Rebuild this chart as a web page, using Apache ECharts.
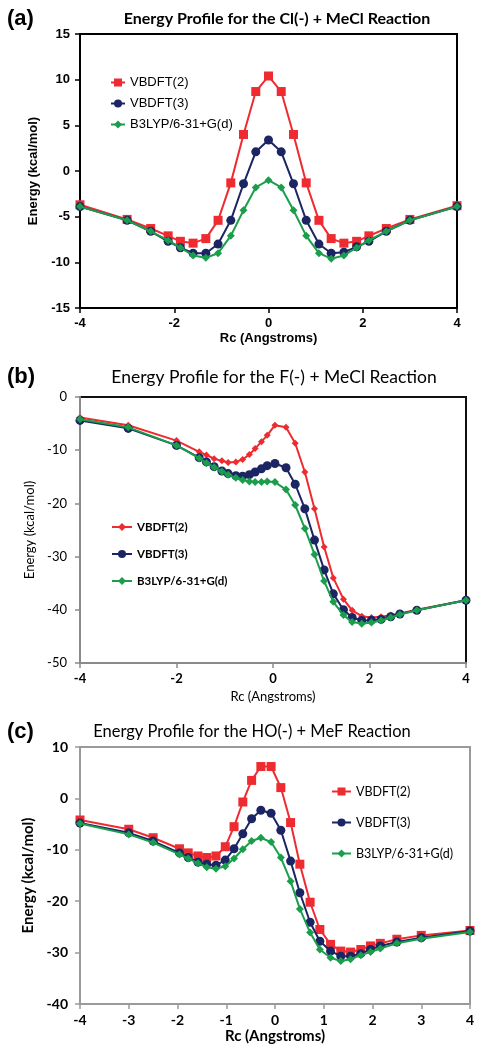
<!DOCTYPE html>
<html>
<head>
<meta charset="utf-8">
<script src="https://cdn.jsdelivr.net/npm/echarts@6/dist/echarts.min.js"></script>
<style>
html,body{margin:0;padding:0;background:#fff;}
#chart{width:485px;height:1050px;}
</style>
</head>
<body>
<div id="chart"></div>
<script>
// ---------- Panel (a): Cl(-) + MeCl ----------
const aX   = [-4, -3, -2.5, -2.13, -1.87, -1.6, -1.33, -1.07, -0.8, -0.53, -0.27, 0, 0.27, 0.53, 0.8, 1.07, 1.33, 1.6, 1.87, 2.13, 2.5, 3, 4];
const aVB2 = [-3.7, -5.3, -6.3, -7.1, -7.7, -7.9, -7.4, -5.4, -1.3, 4.0, 8.7, 10.4, 8.7, 4.0, -1.3, -5.4, -7.4, -7.9, -7.7, -7.1, -6.3, -5.3, -3.8];
const aVB3 = [-3.9, -5.4, -6.6, -7.7, -8.4, -9.0, -9.0, -8.0, -5.4, -1.4, 2.1, 3.4, 2.1, -1.4, -5.4, -8.0, -9.0, -8.9, -8.3, -7.7, -6.6, -5.4, -3.9];
const aB3  = [-3.9, -5.4, -6.6, -7.6, -8.4, -9.25, -9.5, -9.0, -7.1, -4.3, -1.8, -1.0, -1.8, -4.3, -7.1, -9.0, -9.6, -9.25, -8.4, -7.6, -6.6, -5.4, -3.9];
const aYTicks = {min: -15, max: 15, interval: 5};
const aXTicks = {min: -4, max: 4, interval: 2};

// ---------- Panel (b): F(-) + MeCl ----------
const bX   = [-4, -3, -2, -1.53, -1.38, -1.22, -1.06, -0.93, -0.77, -0.63, -0.49, -0.37, -0.24, -0.12, 0.04, 0.27, 0.46, 0.66, 0.86, 1.06, 1.25, 1.46, 1.64, 1.84, 2.04, 2.24, 2.44, 2.63, 2.98, 4];
const bVB2 = [-3.85, -5.3, -8.2, -10.3, -10.9, -11.6, -12.0, -12.3, -12.2, -11.75, -10.8, -9.7, -8.4, -7.2, -5.3, -5.7, -8.7, -14.1, -21.0, -28.2, -34.0, -38.0, -40.1, -41.2, -41.45, -41.3, -41.0, -40.7, -40.0, -38.2];
const bVB3 = [-4.4, -5.9, -9.1, -11.4, -12.2, -13.1, -13.9, -14.4, -14.8, -14.9, -14.6, -14.1, -13.5, -12.9, -12.5, -13.3, -16.4, -21.0, -26.9, -32.5, -37.0, -40.0, -41.45, -42.0, -41.95, -41.8, -41.3, -40.8, -40.1, -38.2];
const bB3  = [-4.2, -5.7, -9.1, -11.5, -12.4, -13.2, -14.0, -14.6, -15.2, -15.6, -15.9, -16.0, -16.0, -15.9, -16.0, -17.4, -20.3, -24.7, -29.6, -34.6, -38.5, -41.0, -42.3, -42.6, -42.4, -42.0, -41.45, -40.9, -40.1, -38.2];
const bYTicks = {min: -50, max: 0, interval: 10};
const bXTicks = {min: -4, max: 4, interval: 2};

// ---------- Panel (c): HO(-) + MeF ----------
const cX   = [-4, -3, -2.5, -1.96, -1.78, -1.58, -1.4, -1.21, -1.02, -0.84, -0.66, -0.48, -0.29, -0.08, 0.12, 0.32, 0.51, 0.72, 0.92, 1.14, 1.35, 1.55, 1.76, 1.96, 2.16, 2.5, 3, 4];
const cVB2 = [-4.2, -6.0, -7.65, -9.8, -10.6, -11.2, -11.5, -11.2, -9.4, -5.5, -0.7, 3.5, 6.2, 6.2, 2.1, -4.7, -12.8, -20.2, -25.5, -28.4, -29.7, -29.9, -29.4, -28.7, -28.2, -27.4, -26.65, -25.7];
const cVB3 = [-4.8, -6.7, -8.3, -10.6, -11.5, -12.4, -12.8, -13.0, -12.0, -9.8, -6.9, -3.95, -2.3, -2.9, -6.2, -12.2, -18.35, -24.1, -27.8, -29.7, -30.7, -30.7, -30.2, -29.4, -28.7, -27.95, -27.1, -25.8];
const cB3  = [-4.9, -7.0, -8.6, -10.9, -11.7, -12.6, -13.4, -13.7, -13.2, -11.7, -9.9, -8.3, -7.65, -8.5, -11.5, -16.1, -21.5, -26.1, -29.4, -31.0, -31.65, -31.3, -30.5, -29.9, -29.2, -28.2, -27.3, -26.0];
const cYTicks = {min: -40, max: 10, interval: 10};
const cXTicks = {min: -4, max: 4, interval: 1};

const seriesNames = ['VBDFT(2)', 'VBDFT(3)', 'B3LYP/6-31+G(d)'];
const titles = ['Energy Profile for the Cl(-) + MeCl Reaction', 'Energy Profile for the F(-) + MeCl Reaction', 'Energy Profile for the HO(-) + MeF Reaction'];
const panelLabels = ['(a)', '(b)', '(c)'];
const xName = 'Rc (Angstroms)';
const yName = 'Energy (kcal/mol)';

// ---------- styling ----------
const RED = '#EE2B30', NAVY = '#1B2563', GREEN = '#1A9E4C';
const ARIAL = 'Liberation Sans, Arial, sans-serif';
const CAL = 'Lato, Carlito, sans-serif';

function zip(xs, ys) { return xs.map((x, i) => [x, ys[i]]); }

const panels = [
  {x: aX, ys: [aVB2, aVB3, aB3], yt: aYTicks, xt: aXTicks,
   grid: {left: 80, top: 34, width: 377, height: 274, border: '#000'},
   axisColor: '#000', tickFont: {family: ARIAL, weight: 'bold', size: 13},
   nameFont: {family: ARIAL, weight: 'bold', size: 13}, xNameGap: 24, yNameGap: 40, yLabelMargin: 10,
   symbols: [['rect', 9], ['circle', 9], ['diamond', 8]],
   legend: {left: 105, top: 71, itemWidth: 14, itemHeight: 10, itemGap: 8, font: {family: ARIAL, weight: 'normal', size: 13}},
   title: {x: 277, y: 19, font: 'bold 16px ' + CAL}, label: {x: 7, y: 19}},
  {x: bX, ys: [bVB2, bVB3, bB3], yt: bYTicks, xt: bXTicks,
   grid: {left: 80, top: 397, width: 386, height: 266, border: '#111'},
   axisColor: '#8a8a8a', tickFont: {family: CAL, weight: 'bold', size: 13}, yTickFont: {family: CAL, weight: 'normal', size: 13},
   nameFont: {family: CAL, weight: 'normal', size: 13}, xNameGap: 27, yNameGap: 36, yLabelMargin: 13,
   symbols: [['diamond', 7], ['circle', 9], ['diamond', 8]],
   legend: {left: 106, top: 516, itemWidth: 20, itemHeight: 10, itemGap: 15, font: {family: CAL, weight: 'bold', size: 11.5}},
   title: {x: 274, y: 377, font: '17.5px ' + CAL}, label: {x: 7, y: 377}},
  {x: cX, ys: [cVB2, cVB3, cB3], yt: cYTicks, xt: cXTicks,
   grid: {left: 80, top: 747, width: 390, height: 257, border: '#9a9a9a'},
   axisColor: '#9a9a9a', tickFont: {family: CAL, weight: 'bold', size: 14},
   nameFont: {family: CAL, weight: 'bold', size: 15}, xNameGap: 25, yNameGap: 35, yLabelMargin: 12,
   symbols: [['rect', 9], ['circle', 9], ['diamond', 8]],
   legend: {left: 326, top: 780, itemWidth: 19, itemHeight: 10, itemGap: 18, font: {family: CAL, weight: 'normal', size: 12.5}},
   title: {x: 252, y: 732, font: '16.5px ' + CAL}, label: {x: 7, y: 732}}
];

const colors = [RED, NAVY, GREEN];
const grids = [], xAxes = [], yAxes = [], series = [], legends = [], graphics = [];

panels.forEach((p, i) => {
  grids.push({left: p.grid.left, top: p.grid.top, width: p.grid.width, height: p.grid.height,
    show: true, borderColor: p.grid.border, borderWidth: 2, backgroundColor: 'transparent', containLabel: false});
  const axLine = {show: true, onZero: false, lineStyle: {color: p.axisColor, width: 2}};
  const axTick = {show: true, inside: false, length: 5, lineStyle: {color: p.axisColor, width: 1.5}};
  xAxes.push({type: 'value', gridIndex: i, min: p.xt.min, max: p.xt.max, interval: p.xt.interval,
    axisLine: axLine, axisTick: axTick, splitLine: {show: false},
    axisLabel: {color: '#000', fontFamily: p.tickFont.family, fontWeight: p.tickFont.weight, fontSize: p.tickFont.size, margin: 9},
    name: xName, nameLocation: 'middle', nameGap: p.xNameGap,
    nameTextStyle: {color: '#000', fontFamily: p.nameFont.family, fontWeight: p.nameFont.weight, fontSize: p.nameFont.size}});
  const yf = p.yTickFont || p.tickFont;
  yAxes.push({type: 'value', gridIndex: i, min: p.yt.min, max: p.yt.max, interval: p.yt.interval,
    axisLine: axLine, axisTick: axTick, splitLine: {show: false},
    axisLabel: {color: '#000', fontFamily: yf.family, fontWeight: yf.weight, fontSize: yf.size, margin: p.yLabelMargin},
    name: yName, nameLocation: 'middle', nameGap: p.yNameGap,
    nameTextStyle: {color: '#000', fontFamily: p.nameFont.family, fontWeight: p.nameFont.weight, fontSize: p.nameFont.size}});
  const names = [];
  p.ys.forEach((ys, k) => {
    const nm = panelLabels[i] + '|' + seriesNames[k];
    names.push(nm);
    series.push({type: 'line', name: nm, xAxisIndex: i, yAxisIndex: i, data: zip(p.x, ys),
      symbol: p.symbols[k][0], symbolSize: p.symbols[k][1], showAllSymbol: true,
      lineStyle: {color: colors[k], width: 2}, itemStyle: {color: colors[k]},
      animation: false, z: 2 + k});
  });
  legends.push({data: names, orient: 'vertical', left: p.legend.left, top: p.legend.top,
    itemWidth: p.legend.itemWidth, itemHeight: p.legend.itemHeight, itemGap: p.legend.itemGap,
    formatter: n => n.split('|')[1], selectedMode: false,
    textStyle: {color: '#000', fontFamily: p.legend.font.family, fontWeight: p.legend.font.weight, fontSize: p.legend.font.size}});
  graphics.push({type: 'text', x: p.title.x, y: p.title.y,
    style: {text: titles[i], font: p.title.font, fill: '#000', align: 'center', verticalAlign: 'middle', textAlign: 'center', textVerticalAlign: 'middle'}});
  graphics.push({type: 'text', x: p.label.x, y: p.label.y,
    style: {text: panelLabels[i], font: 'bold 22px ' + ARIAL, fill: '#000', align: 'left', verticalAlign: 'middle', textAlign: 'left', textVerticalAlign: 'middle'}});
});

const chart = echarts.init(document.getElementById('chart'), null, {renderer: 'canvas'});
chart.setOption({
  animation: false,
  backgroundColor: '#fff',
  grid: grids, xAxis: xAxes, yAxis: yAxes, series: series, legend: legends,
  graphic: graphics
});
</script>
</body>
</html>
